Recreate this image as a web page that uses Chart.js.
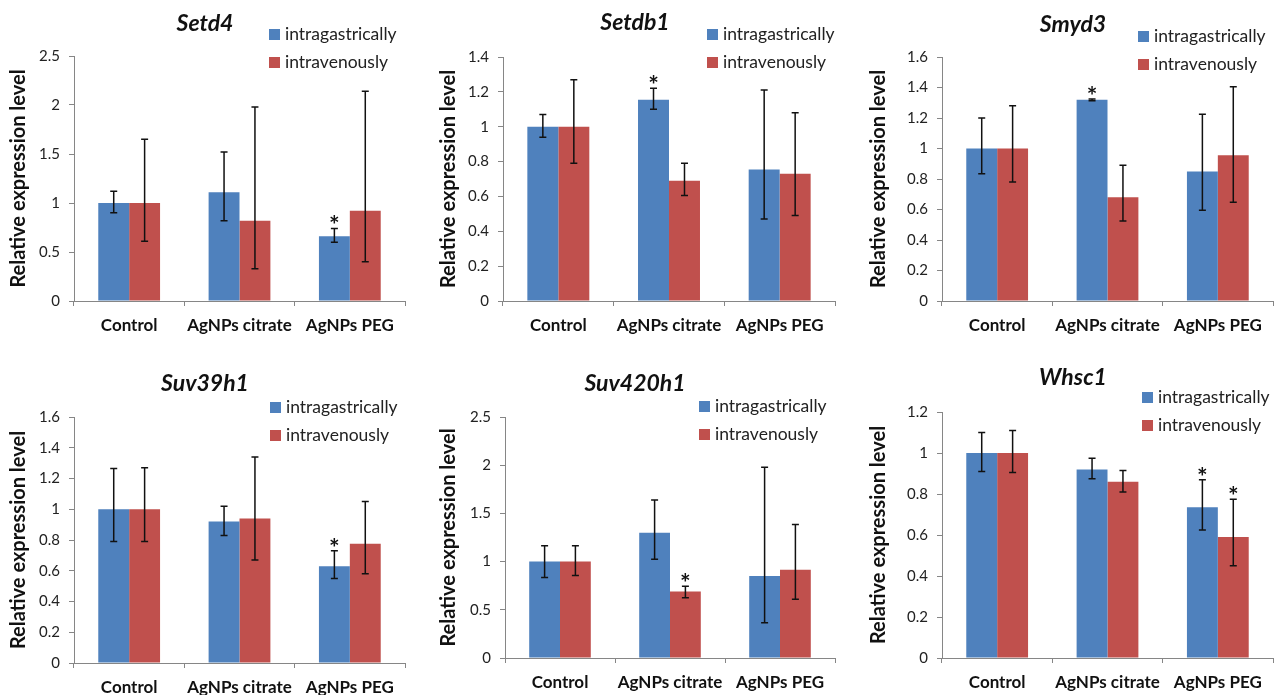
<!DOCTYPE html>
<html>
<head>
<meta charset="utf-8">
<script src="https://cdn.jsdelivr.net/npm/chart.js@4.4.0/dist/chart.umd.min.js"></script>
<style>
  body { margin: 0; background: #fff; width: 1280px; height: 695px; position: relative; overflow: hidden; }
  canvas { position: absolute; }
</style>
</head>
<body>
<canvas id="c0"></canvas>
<canvas id="c1"></canvas>
<canvas id="c2"></canvas>
<canvas id="c3"></canvas>
<canvas id="c4"></canvas>
<canvas id="c5"></canvas>
<script>
const categories = ['Control', 'AgNPs citrate', 'AgNPs PEG'];
const seriesNames = ['intragastrically', 'intravenously'];
const seriesColors = ['#4F81BD', '#C0504D'];
const geneNames = ['Setd4', 'Setdb1', 'Smyd3', 'Suv39h1', 'Suv420h1', 'Whsc1'];
const yMax = [2.5, 1.4, 1.6, 1.6, 2.5, 1.2];
const yStep = [0.5, 0.2, 0.2, 0.2, 0.5, 0.2];

// rows: [intragastrically, intravenously]; upper/lower = ends of the error bars
const setd4Means = [[1.00, 1.11, 0.66], [1.00, 0.82, 0.92]];
const setd4Upper = [[1.12, 1.52, 0.74], [1.65, 1.98, 2.14]];
const setd4Lower = [[0.90, 0.82, 0.60], [0.61, 0.33, 0.40]];
const setd4Stars = [[0, 0, 1], [0, 0, 0]];

const setdb1Means = [[1.00, 1.155, 0.755], [1.00, 0.69, 0.73]];
const setdb1Upper = [[1.07, 1.22, 1.21], [1.27, 0.79, 1.08]];
const setdb1Lower = [[0.94, 1.10, 0.47], [0.79, 0.605, 0.49]];
const setdb1Stars = [[0, 1, 0], [0, 0, 0]];

const smyd3Means = [[1.00, 1.32, 0.85], [1.00, 0.68, 0.955]];
const smyd3Upper = [[1.20, 1.325, 1.225], [1.28, 0.89, 1.405]];
const smyd3Lower = [[0.835, 1.313, 0.595], [0.78, 0.525, 0.648]];
const smyd3Stars = [[0, 1, 0], [0, 0, 0]];

const suv39h1Means = [[1.00, 0.92, 0.63], [1.00, 0.94, 0.775]];
const suv39h1Upper = [[1.265, 1.02, 0.73], [1.27, 1.34, 1.05]];
const suv39h1Lower = [[0.79, 0.83, 0.55], [0.79, 0.67, 0.58]];
const suv39h1Stars = [[0, 0, 1], [0, 0, 0]];

const suv420h1Means = [[1.00, 1.30, 0.85], [1.00, 0.69, 0.915]];
const suv420h1Upper = [[1.165, 1.64, 1.98], [1.165, 0.745, 1.385]];
const suv420h1Lower = [[0.835, 1.025, 0.365], [0.855, 0.625, 0.61]];
const suv420h1Stars = [[0, 0, 0], [0, 1, 0]];

const whsc1Means = [[1.00, 0.92, 0.735], [1.00, 0.86, 0.59]];
const whsc1Upper = [[1.10, 0.975, 0.87], [1.11, 0.915, 0.775]];
const whsc1Lower = [[0.91, 0.875, 0.625], [0.905, 0.81, 0.45]];
const whsc1Stars = [[0, 0, 1], [0, 0, 1]];

const geneMeans = [setd4Means, setdb1Means, smyd3Means, suv39h1Means, suv420h1Means, whsc1Means];
const geneUpper = [setd4Upper, setdb1Upper, smyd3Upper, suv39h1Upper, suv420h1Upper, whsc1Upper];
const geneLower = [setd4Lower, setdb1Lower, smyd3Lower, suv39h1Lower, suv420h1Lower, whsc1Lower];
const geneStars = [setd4Stars, setdb1Stars, smyd3Stars, suv39h1Stars, suv420h1Stars, whsc1Stars];

// panel boxes on the page (canvas rect + where the plot area sits inside it)
const panels = [
  { left: 0,   top: 0,   w: 427, h: 345, yW: 74, padTop: 56, padRight: 22, xH: 44, titleX: 205, titleY: 24, legX: 269, legY: 34 },
  { left: 430, top: 0,   w: 427, h: 345, yW: 73, padTop: 57, padRight: 22, xH: 44, titleX: 205, titleY: 23, legX: 277, legY: 34 },
  { left: 860, top: 0,   w: 420, h: 345, yW: 82, padTop: 57, padRight: 7,  xH: 44, titleX: 213, titleY: 25, legX: 278, legY: 36 },
  { left: 0,   top: 355, w: 427, h: 340, yW: 74, padTop: 62, padRight: 22, xH: 32, titleX: 205, titleY: 29, legX: 270, legY: 52 },
  { left: 430, top: 355, w: 427, h: 340, yW: 75, padTop: 62, padRight: 22, xH: 37, titleX: 205, titleY: 29, legX: 269, legY: 51 },
  { left: 860, top: 355, w: 420, h: 340, yW: 82, padTop: 57, padRight: 7,  xH: 37, titleX: 213, titleY: 23, legX: 282, legY: 42 }
];

const FONT = 'Lato, "Open Sans", sans-serif';

// error bars, asterisks, title and legend
const decor = {
  id: 'decor',
  afterDatasetsDraw(chart, args, opts) {
    const ctx = chart.ctx;
    const y = chart.scales.y;
    ctx.save();
    chart.data.datasets.forEach((ds, i) => {
      const meta = chart.getDatasetMeta(i);
      meta.data.forEach((bar, j) => {
        const yHi = y.getPixelForValue(opts.upper[i][j]);
        const yLo = y.getPixelForValue(opts.lower[i][j]);
        ctx.strokeStyle = '#111';
        ctx.lineWidth = 1.5;
        ctx.beginPath();
        ctx.moveTo(bar.x, yHi); ctx.lineTo(bar.x, yLo);
        ctx.moveTo(bar.x - 3.5, yHi); ctx.lineTo(bar.x + 3.5, yHi);
        ctx.moveTo(bar.x - 3.5, yLo); ctx.lineTo(bar.x + 3.5, yLo);
        ctx.stroke();
        if (opts.stars[i][j]) {
          ctx.fillStyle = '#111';
          ctx.font = 'bold 25px ' + FONT;
          ctx.textAlign = 'center';
          ctx.textBaseline = 'alphabetic';
          ctx.fillText('*', bar.x, yHi + 6);
        }
      });
    });
    ctx.restore();
  },
  afterDraw(chart, args, opts) {
    const ctx = chart.ctx;
    ctx.save();
    ctx.fillStyle = '#111';
    ctx.font = 'italic bold 23px ' + FONT;
    ctx.textAlign = 'center';
    ctx.textBaseline = 'middle';
    ctx.fillText(opts.title, opts.titleX, opts.titleY);
    ctx.font = '17.5px ' + FONT;
    ctx.textAlign = 'left';
    chart.data.datasets.forEach((ds, i) => {
      const cy = opts.legY + i * 28;
      ctx.fillStyle = ds.backgroundColor;
      ctx.fillRect(opts.legX, cy - 5, 11, 11);
      ctx.fillStyle = '#222';
      ctx.fillText(ds.label, opts.legX + 16, cy);
    });
    ctx.restore();
  }
};

panels.forEach((p, k) => {
  const canvas = document.getElementById('c' + k);
  canvas.width = p.w;
  canvas.height = p.h;
  canvas.style.left = p.left + 'px';
  canvas.style.top = p.top + 'px';

  new Chart(canvas, {
    type: 'bar',
    data: {
      labels: categories,
      datasets: seriesNames.map((name, i) => ({
        label: name,
        data: geneMeans[k][i],
        backgroundColor: seriesColors[i],
        barPercentage: 1,
        categoryPercentage: 0.56
      }))
    },
    options: {
      responsive: false,
      animation: false,
      devicePixelRatio: 1,
      layout: { padding: { left: 0, top: p.padTop, right: p.padRight, bottom: 0 } },
      plugins: {
        legend: { display: false },
        tooltip: { enabled: false },
        decor: {
          title: geneNames[k], titleX: p.titleX, titleY: p.titleY,
          legX: p.legX, legY: p.legY,
          upper: geneUpper[k], lower: geneLower[k], stars: geneStars[k]
        }
      },
      scales: {
        x: {
          grid: { drawOnChartArea: false, tickLength: 5, color: '#868686', offset: true },
          border: { color: '#868686' },
          ticks: { color: '#111', padding: 9, font: { family: FONT, size: 17, weight: 'bold' }, maxRotation: 0 },
          afterFit: (s) => { s.height = p.xH; }
        },
        y: {
          min: 0,
          max: yMax[k],
          grid: { drawOnChartArea: false, tickLength: 5, color: '#868686' },
          border: { color: '#868686' },
          ticks: {
            stepSize: yStep[k],
            color: '#222',
            padding: 9,
            font: { family: FONT, size: 15 },
            callback: (v) => String(+v.toFixed(2))
          },
          title: {
            display: true,
            text: 'Relative expression level',
            color: '#111',
            font: { family: FONT, size: 20, weight: 'bold' },
            padding: { top: 7, bottom: 0 }
          },
          afterFit: (s) => { s.width = p.yW; }
        }
      }
    },
    plugins: [decor]
  });
});
</script>
</body>
</html>
